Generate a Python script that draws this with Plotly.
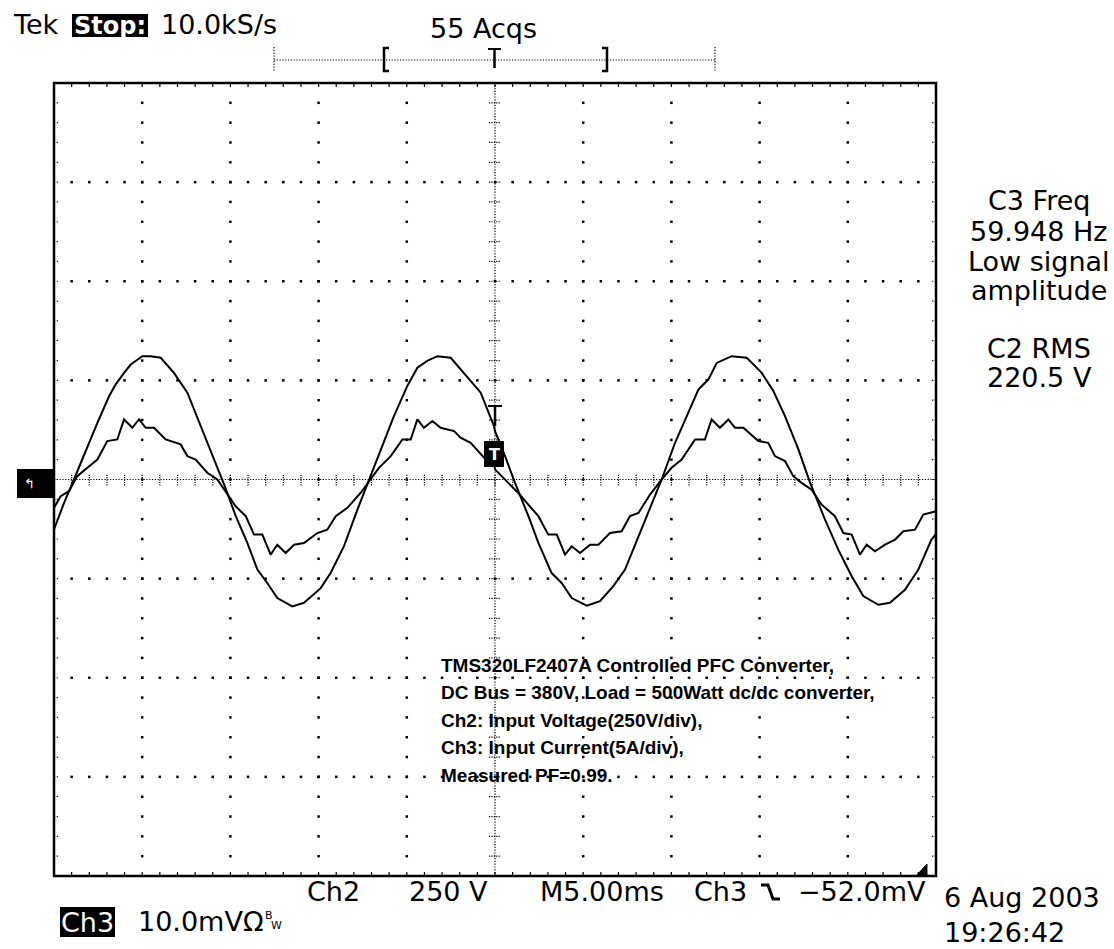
import numpy as np
import plotly.graph_objects as go

# ---------------- data ----------------
MS_PER_DIV = 5.0      # M5.00ms
V_PER_DIV = 250.0     # Ch2 250 V/div
A_PER_DIV = 5.0       # Ch3 5 A/div

# Ch2: input voltage (V) vs time (ms, trigger at 0)
time_v_ms = [-25, -24.43, -23.87, -23.11, -22.54, -21.88, -21.50, -21.03, -20.65, -19.99,
             -19.52, -18.95, -18.20, -17.44, -16.69, -15.93, -15.36, -14.70, -14.04, -13.47,
             -12.91, -12.34, -11.49, -10.83, -9.88, -9.32, -8.56, -7.80, -7.14, -6.39,
             -5.73, -4.97, -4.40, -3.84, -3.27, -2.51, -1.76, -0.81, -0.06,
             0, 0.57, 1.13, 1.89, 2.46, 3.21, 3.78, 4.35, 5.20, 5.95,
             6.71, 7.37, 8.13, 8.88, 9.45, 10.20, 10.87, 11.53, 12.09, 12.57,
             13.42, 14.27, 15.12, 15.78, 16.44, 17.20, 17.86, 18.71, 19.46, 20.22,
             20.88, 21.73, 22.39, 23.24, 24.0, 24.75, 25]
voltage_V = [-126, -59, 0, 84, 143, 210, 240, 269, 290, 311,
             311, 307, 269, 219, 135, 50, -12, -92, -160, -227,
             -261, -299, -320, -311, -274, -236, -168, -76, 0, 84,
             160, 236, 282, 299, 311, 307, 269, 219, 135,
             122, 59, -8, -92, -160, -236, -261, -299, -318, -307,
             -269, -227, -143, -59, 0, 92, 160, 227, 252, 294,
             311, 307, 269, 223, 160, 76, -8, -101, -177, -244,
             -294, -316, -311, -278, -227, -151, -138]

# Ch3: input current (A) vs time (ms)
time_i_ms = [-25, -24.62, -24.15, -23.68, -23.11, -22.54, -21.98, -21.41, -21.03, -20.56,
             -20.18, -19.80, -19.33, -18.67, -17.82, -17.44, -16.97, -16.31, -15.74, -15.17,
             -14.70, -14.13, -13.66, -13.19, -12.72, -12.34, -11.87, -11.39, -10.83, -10.07,
             -9.51, -9.03, -8.37, -7.62, -7.05, -6.58, -5.91, -5.25, -4.78, -4.40,
             -4.03, -3.55, -3.08, -2.32, -1.95, -1.38, -0.62, -0.06,
             0, 0.57, 1.32, 1.89, 2.46, 3.02, 3.50, 3.97, 4.35, 4.82,
             5.39, 5.86, 6.52, 7.18, 7.65, 8.13, 8.79, 9.45, 10.01, 10.58,
             11.34, 11.90, 12.28, 12.75, 13.23, 13.61, 14.08, 14.93, 15.49, 15.87,
             16.44, 16.91, 17.38, 17.95, 18.52, 19.27, 19.75, 20.22, 20.69, 21.07,
             21.54, 22.11, 22.68, 23.15, 23.81, 24.28, 25]
current_A = [-1.43, -0.84, -0.59, 0.17, 0.59, 1.01, 1.94, 2.02, 3.03, 2.61,
             3.03, 2.61, 2.61, 2.02, 1.77, 1.18, 1.01, 0.34, 0, -0.76,
             -1.35, -1.85, -2.78, -2.78, -3.79, -3.29, -3.71, -3.29, -3.20, -2.70,
             -2.53, -1.85, -1.43, -0.68, 0, 0.59, 1.18, 2.02, 2.02, 3.03,
             2.61, 2.95, 2.61, 2.44, 2.11, 1.85, 1.10, 0.84,
             0.51, 0, -0.68, -1.27, -1.85, -2.78, -2.78, -3.79, -3.37, -3.71,
             -3.29, -3.29, -2.70, -2.61, -1.85, -1.69, -0.76, 0, 0.59, 1.01,
             2.02, 2.02, 3.03, 2.61, 3.03, 2.61, 2.61, 1.94, 1.85, 1.18,
             0.93, 0.17, -0.17, -0.51, -1.27, -1.85, -2.70, -2.78, -3.79, -3.29,
             -3.62, -3.29, -3.03, -2.61, -2.53, -1.77, -1.60]

header_left = ["Tek", "Stop:", "10.0kS/s"]
header_acq = "55 Acqs"
right_readout = ["C3 Freq", "59.948 Hz", "Low signal", "amplitude", "C2 RMS", "220.5 V"]
note_lines = ["TMS320LF2407A Controlled PFC Converter,",
              "DC Bus = 380V, Load = 500Watt dc/dc converter,",
              "Ch2: Input Voltage(250V/div),",
              "Ch3: Input Current(5A/div),",
              "Measured PF=0.99."]
bottom_labels = ["Ch2", "250 V", "M5.00ms", "Ch3", "\u221252.0mV"]
ch3_scale = ["Ch3", "10.0mV\u03a9", "B", "W"]
date_text = ["6 Aug 2003", "19:26:42"]

N_XDIV, N_YDIV, N_MINOR = 10, 8, 5

# ---------------- geometry ----------------
W, H = 1114, 949
L, R, T, B = 54, 936, 83, 876
X_RANGE = [-N_XDIV / 2 * MS_PER_DIV, N_XDIV / 2 * MS_PER_DIV]
Y_RANGE = [-N_YDIV / 2, N_YDIV / 2]
px_per_ms = (R - L) / (X_RANGE[1] - X_RANGE[0])
px_per_div = (B - T) / (Y_RANGE[1] - Y_RANGE[0])


def pxx(x):
    return (x - L) / (R - L)


def pxy(y):
    return (B - y) / (B - T)


FONT = "DejaVu Sans"
FS = 27

fig = go.Figure()

# ---------------- graticule dots ----------------
major_x = X_RANGE[0] + MS_PER_DIV * np.arange(1, N_XDIV)
major_y = Y_RANGE[0] + np.arange(1, N_YDIV)
minor_x = X_RANGE[0] + MS_PER_DIV / N_MINOR * np.arange(1, N_XDIV * N_MINOR)
minor_y = Y_RANGE[0] + 1.0 / N_MINOR * np.arange(1, N_YDIV * N_MINOR)
major_x = major_x[np.abs(major_x) > 1e-9]
major_y = major_y[np.abs(major_y) > 1e-9]

gx, gy = [], []
for mx in major_x:
    gx += [mx] * len(minor_y)
    gy += list(minor_y)
for my in major_y:
    gx += list(minor_x)
    gy += [my] * len(minor_x)
fig.add_trace(go.Scatter(x=gx, y=gy, mode="markers",
                         marker=dict(symbol="square", size=2.5, color="black", line=dict(width=0)),
                         hoverinfo="skip", showlegend=False))

shapes = []
# centre crosshair (dense dotted)
shapes.append(dict(type="line", xref="x", yref="y", x0=X_RANGE[0], x1=X_RANGE[1], y0=0, y1=0,
                   line=dict(color="black", width=1.2, dash="1.2px,1.6px"), layer="below"))
shapes.append(dict(type="line", xref="x", yref="y", x0=0, x1=0, y0=Y_RANGE[0], y1=Y_RANGE[1],
                   line=dict(color="black", width=1.2, dash="1.2px,1.6px"), layer="below"))

tick_half_y = 6 / px_per_div
tick_half_x = 6 / px_per_ms
for mx in minor_x:
    shapes.append(dict(type="line", xref="x", yref="y", x0=mx, x1=mx, y0=-tick_half_y, y1=tick_half_y,
                       line=dict(color="black", width=1.2, dash="1.2px,1.2px"), layer="below"))
for my in minor_y:
    shapes.append(dict(type="line", xref="x", yref="y", x0=-tick_half_x, x1=tick_half_x, y0=my, y1=my,
                       line=dict(color="black", width=1.2, dash="1.2px,1.2px"), layer="below"))

# border ticks
bt_y = 4 / px_per_div
bt_x = 5 / px_per_ms
for mx in minor_x:
    for edge, sgn in ((Y_RANGE[1], -1), (Y_RANGE[0], 1)):
        shapes.append(dict(type="line", xref="x", yref="y", x0=mx, x1=mx, y0=edge, y1=edge + sgn * bt_y,
                           line=dict(color="black", width=1.2), layer="below"))
for my in minor_y:
    for edge, sgn in ((X_RANGE[0], 1), (X_RANGE[1], -1)):
        shapes.append(dict(type="line", xref="x", yref="y", x0=edge, x1=edge + sgn * bt_x, y0=my, y1=my,
                           line=dict(color="black", width=1.2, dash="1.2px,1.5px"), layer="below"))

# border
shapes.append(dict(type="rect", xref="paper", yref="paper", x0=0, x1=1, y0=0, y1=1,
                   line=dict(color="black", width=2.5)))

# ---------------- waveforms ----------------
fig.add_trace(go.Scatter(x=time_v_ms, y=np.array(voltage_V) / V_PER_DIV, mode="lines",
                         line=dict(color="black", width=2), name="Ch2", showlegend=False))
fig.add_trace(go.Scatter(x=time_i_ms, y=np.array(current_A) / A_PER_DIV, mode="lines",
                         line=dict(color="black", width=2), name="Ch3", showlegend=False))


# ---------------- scope decorations (pixel positions) ----------------
def pshape(path, **kw):
    d = dict(type="path", xref="paper", yref="paper", path=path)
    d.update(kw)
    return d


def ppath(points, close=False):
    s = "M" + " L".join(f"{pxx(x):.5f},{pxy(y):.5f}" for x, y in points)
    return s + (" Z" if close else "")


# record bar at top
shapes.append(dict(type="line", xref="paper", yref="paper", x0=pxx(274), x1=pxx(715), y0=pxy(60), y1=pxy(60),
                   line=dict(color="black", width=1.2, dash="1.2px,1.6px")))
for xx in (274, 715):
    shapes.append(dict(type="line", xref="paper", yref="paper", x0=pxx(xx), x1=pxx(xx), y0=pxy(47), y1=pxy(72),
                       line=dict(color="black", width=1.2, dash="1.2px,1.6px")))
shapes.append(pshape(ppath([(389, 48), (384, 48), (384, 71), (389, 71)]), line=dict(color="black", width=2.5)))
shapes.append(pshape(ppath([(602, 48), (607, 48), (607, 71), (602, 71)]), line=dict(color="black", width=2.5)))
shapes.append(pshape(ppath([(488, 49), (501, 49)]), line=dict(color="black", width=2)))
shapes.append(pshape(ppath([(494.5, 49), (494.5, 68)]), line=dict(color="black", width=2.5)))

# "Stop:" box
shapes.append(dict(type="rect", xref="paper", yref="paper", x0=pxx(72), x1=pxx(148), y0=pxy(37), y1=pxy(14),
                   fillcolor="black", line=dict(width=0)))
# Ch3 box
shapes.append(dict(type="rect", xref="paper", yref="paper", x0=pxx(60), x1=pxx(115), y0=pxy(937), y1=pxy(907),
                   fillcolor="black", line=dict(width=0)))
# ground marker
shapes.append(dict(type="rect", xref="paper", yref="paper", x0=pxx(17), x1=pxx(53), y0=pxy(498), y1=pxy(469),
                   fillcolor="black", line=dict(width=0)))
# trigger level marker
shapes.append(dict(type="rect", xref="paper", yref="paper", x0=pxx(484), x1=pxx(504), y0=pxy(467), y1=pxy(441),
                   fillcolor="black", line=dict(width=0)))
shapes.append(pshape(ppath([(488, 406), (502, 406)]), line=dict(color="black", width=2)))
shapes.append(pshape(ppath([(495, 406), (495, 426)]), line=dict(color="black", width=2.5)))
# trigger slope glyph
shapes.append(pshape(ppath([(761, 885), (768, 885), (773, 899), (780, 899)]), line=dict(color="black", width=3)))
# bottom right marker
shapes.append(pshape(ppath([(916, 876), (927, 864), (927, 876)], close=True), fillcolor="black",
                     line=dict(color="black", width=1)))

ann = []


def text(x, y, s, size=FS, color="black", xanchor="left", family=FONT, bold=False):
    ann.append(dict(x=pxx(x), y=pxy(y), xref="paper", yref="paper", text=(f"<b>{s}</b>" if bold else s),
                    showarrow=False, xanchor=xanchor, yanchor="middle",
                    font=dict(family=family, size=size, color=color)))


text(11, 25, header_left[0])
text(110, 26, header_left[1], color="white", xanchor="center", bold=True, size=24)
text(159, 25, header_left[2])
text(428, 28, header_acq)

readout_y = [200, 231, 261, 290, 348, 377]
for line, yy in zip(right_readout, readout_y):
    text(1039, yy, line, xanchor="center")

for i, line in enumerate(note_lines):
    text(439, 665 + i * 27.5, line, size=19, family="Liberation Sans", bold=True)

text(305, 892, bottom_labels[0])
text(407, 892, bottom_labels[1])
text(538, 892, bottom_labels[2])
text(692, 892, bottom_labels[3])
text(796, 892, bottom_labels[4])
text(87.5, 922, ch3_scale[0], color="white", xanchor="center")
text(136, 921, ch3_scale[1])
text(263, 915, ch3_scale[2], size=11)
text(269, 925, ch3_scale[3], size=11)
text(942, 898, date_text[0])
text(942, 932, date_text[1])
text(29, 483, "\u21b0", size=13, color="white", xanchor="center")
text(494, 454, "T", size=16, color="white", xanchor="center", bold=True)

fig.update_layout(
    width=W, height=H, autosize=False,
    margin=dict(l=L, r=W - R, t=T, b=H - B, pad=0),
    paper_bgcolor="white", plot_bgcolor="white",
    xaxis=dict(range=X_RANGE, showgrid=False, zeroline=False, showticklabels=False, showline=False,
               fixedrange=True),
    yaxis=dict(range=Y_RANGE, showgrid=False, zeroline=False, showticklabels=False, showline=False,
               fixedrange=True),
    shapes=shapes, annotations=ann, showlegend=False,
)

fig.write_html("out.html", config={"displayModeBar": False},
               post_script="document.body.style.margin='0px';")
